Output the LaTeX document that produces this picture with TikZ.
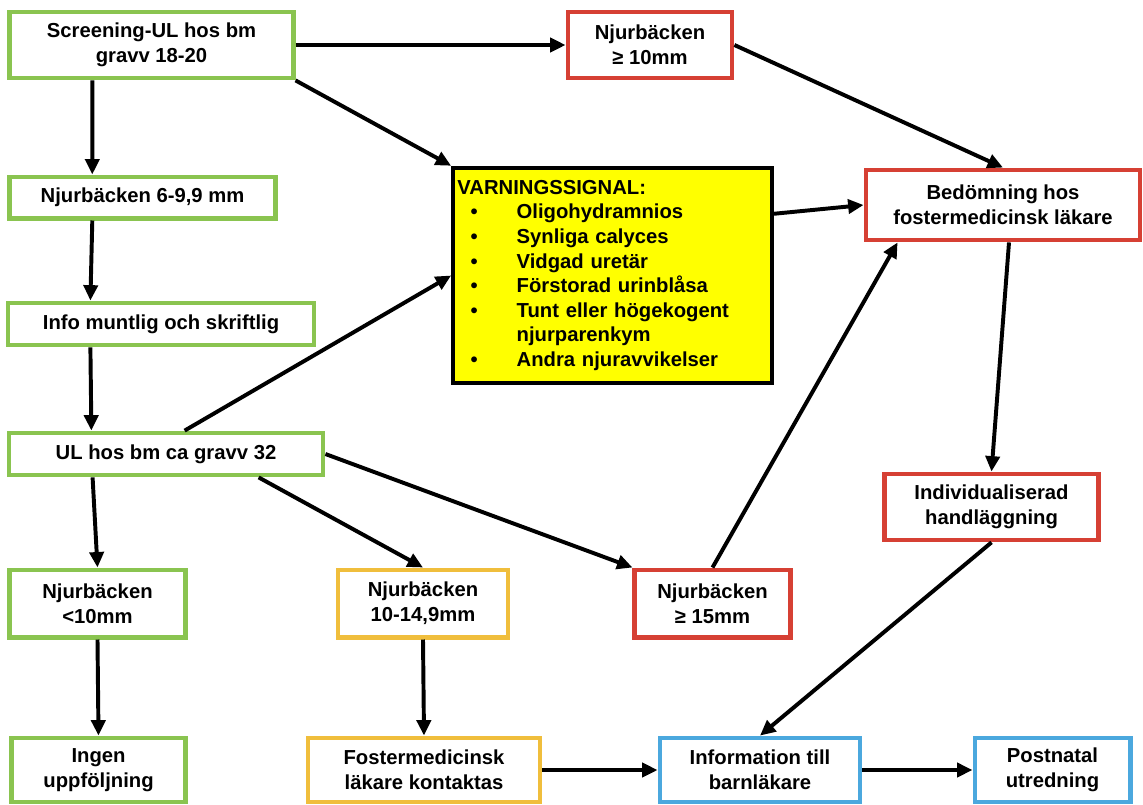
\documentclass[tikz,border=0pt]{standalone}
\usepackage{fontspec}
\setmainfont{Liberation Sans}
\usetikzlibrary{arrows.meta}

\definecolor{boxgreen}{RGB}{138,196,80}
\definecolor{boxred}{RGB}{214,64,52}
\definecolor{boxorange}{RGB}{240,190,60}
\definecolor{boxblue}{RGB}{75,168,222}
\definecolor{warnyellow}{RGB}{255,255,0}

\newcommand{\wbul}{\hspace*{0.33cm}\makebox[1.15cm][l]{\textbullet}}

\begin{document}
\begin{tikzpicture}[x=0.025cm, y=-0.025cm]
        \tikzstyle{every node}=[rectangle, fill=white, line width=3.4pt, inner sep=2pt, align=center, font=\fontsize{14.4}{17.5}\selectfont\bfseries, text=black]
        \tikzstyle{greenbox}=[draw=boxgreen]
        \tikzstyle{redbox}=[draw=boxred]
        \tikzstyle{orangebox}=[draw=boxorange]
        \tikzstyle{bluebox}=[draw=boxblue]
        \tikzstyle{edge}=[black, line width=2.8pt, -{Triangle[length=11pt,width=10pt]}]

        \useasboundingbox (0,0) rectangle (1143,804);

        \node[greenbox, minimum width=7.08cm, minimum height=1.65cm] (screen) at (151.5,45)  {Screening-UL hos bm\\ gravv 18-20};
        \node[redbox,   minimum width=4.10cm, minimum height=1.65cm] (njur10) at (650,45)    {Njurbäcken\\ ≥ 10mm};
        \node[greenbox, minimum width=6.63cm, minimum height=1.03cm] (njur6)  at (142.5,197.5) {Njurbäcken 6-9,9 mm};
        \node[redbox,   minimum width=6.85cm, minimum height=1.75cm] (bedom)  at (1003,205)  {Bedömning hos\\ fostermedicinsk läkare};
        \node[greenbox, minimum width=7.65cm, minimum height=1.05cm] (info)   at (161,324)   {Info muntlig och skriftlig};
        \node[greenbox, minimum width=7.85cm, minimum height=1.05cm] (ul32)   at (166,454) {UL hos bm ca gravv 32};
        \node[redbox,   minimum width=5.33cm, minimum height=1.65cm] (indiv)  at (991.5,507) {Individualiserad\\ handläggning};

        \node[greenbox,  minimum width=4.38cm, minimum height=1.68cm] (lt10)    at (97.5,603.5)  {Njurbäcken\\ <10mm};
        \node[orangebox, minimum width=4.25cm, minimum height=1.68cm] (njur1015) at (423,603.5)  {Njurbäcken\\ 10-14,9mm};
        \node[redbox,    minimum width=3.88cm, minimum height=1.68cm] (njur15)  at (712.5,603.5) {Njurbäcken\\ ≥ 15mm};

        \node[greenbox,  minimum width=4.33cm, minimum height=1.6cm] (ingen)    at (98.5,770)  {Ingen\\ uppföljning};
        \node[orangebox, minimum width=5.80cm, minimum height=1.6cm] (foster)   at (424,770)   {Fostermedicinsk\\ läkare kontaktas};
        \node[bluebox,   minimum width=5.00cm, minimum height=1.6cm] (barninfo) at (760,770)   {Information till\\ barnläkare};
        \node[bluebox,   minimum width=3.88cm, minimum height=1.6cm] (postnatal) at (1052.5,770) {Postnatal\\ utredning};

        % warning signs
        \node[draw=black, fill=warnyellow, line width=3pt, inner xsep=3pt, text width=7.75cm, align=left, minimum height=5.38cm] (warn) at (612.5,275.5) {VARNINGSSIGNAL:\\
            \wbul Oligohydramnios\\
            \wbul Synliga calyces\\
            \wbul Vidgad uretär\\
            \wbul Förstorad urinblåsa\\
            \wbul Tunt eller högekogent\\
            \hspace*{1.48cm}njurparenkym\\
            \wbul Andra njuravvikelser};

        \draw[edge] (screen.east) -- (njur10.west);
        \draw[edge] (screen.south east) -- (warn.north west);
        \draw[edge] ([xshift=2.12cm]screen.south west) -- ([xshift=2.12cm]njur6.north west);
        \draw[edge] (njur10.east) -- (bedom.north);
        \draw[edge] ([yshift=-1.2cm]warn.north east) -- (bedom.west);

        \draw[edge] ([xshift=2.12cm]njur6.south west) -- ([xshift=2.12cm]info.north west);
        \draw[edge] ([xshift=2.12cm]info.south west) -- ([xshift=2.12cm]ul32.north west);
        \draw[edge] ([xshift=4.45cm]ul32.north west) -- (warn.west);

        \draw[edge] ([xshift=2.15cm]ul32.south west) -- (lt10.north);
        \draw[edge] ([xshift=6.3cm]ul32.south west) -- (njur1015.north);
        \draw[edge] (ul32.east) -- (njur15.north west);
        \draw[edge] (njur15.north) -- ([xshift=0.85cm]bedom.south west);
        \draw[edge] ([xshift=0.15cm]bedom.south) -- (indiv.north);
        \draw[edge] (indiv.south) -- (barninfo.north);

        \draw[edge] (lt10.south) -- (ingen.north);
        \draw[edge] (njur1015.south) -- (foster.north);
        \draw[edge] (foster.east) -- (barninfo.west);
        \draw[edge] (barninfo.east) -- (postnatal.west);
\end{tikzpicture}
\end{document}
